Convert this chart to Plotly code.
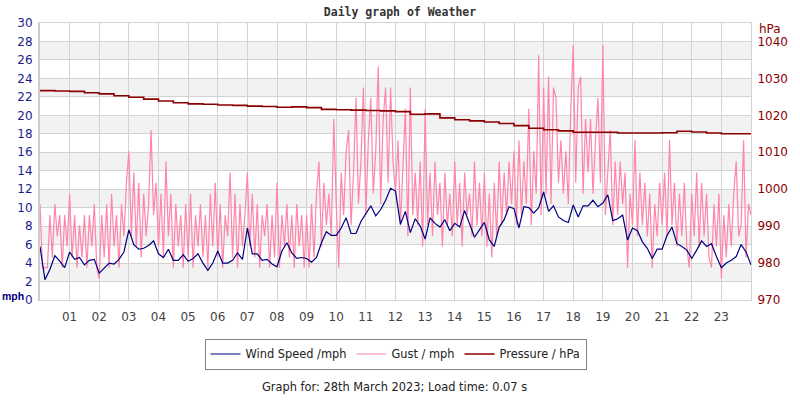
import pandas as pd
import plotly.graph_objects as go

# ---------------- data ----------------
DAY = "2023-03-28"

# wind speed, mph, every 10 minutes from 00:00
wind_mph = [
    5.8, 2.2, 3.3, 4.8, 4.2, 3.5,
    5.2, 4.4, 4.6, 3.8, 4.3, 4.4,
    2.9, 3.4, 4.0, 3.9, 4.4, 5.2,
    7.6, 6.0, 5.5, 5.6, 5.9, 6.4,
    5.0, 4.6, 5.5, 4.3, 4.3, 4.9,
    4.2, 4.5, 5.0, 4.0, 3.2, 4.0,
    5.3, 4.0, 4.0, 4.3, 5.1, 4.4,
    7.8, 5.0, 5.0, 4.3, 4.4, 3.9,
    3.6, 5.3, 6.2, 5.1, 4.5, 4.6,
    4.5, 4.1, 4.6, 6.2, 7.4, 7.0,
    7.0, 7.8, 8.9, 7.2, 7.2, 8.5,
    9.3, 10.2, 9.1, 9.8, 10.8, 12.1,
    11.8, 8.2, 9.6, 7.3, 8.8, 8.0,
    6.6, 8.9, 8.3, 7.9, 8.7, 7.5,
    8.3, 7.9, 9.7, 8.3, 6.8, 7.6,
    8.4, 6.5, 5.8, 7.9, 8.7, 10.1,
    9.9, 7.8, 10.1, 10.0, 9.4, 10.0,
    11.7, 9.6, 10.2, 9.0, 8.6, 8.4,
    10.3, 9.0, 10.2, 10.2, 10.8, 10.1,
    10.5, 11.4, 8.6, 8.8, 9.2, 6.5,
    7.8, 7.5, 6.3, 5.6, 4.5, 5.5,
    5.5, 7.0, 7.9, 6.1, 5.8, 5.4,
    4.5, 5.4, 6.4, 5.8, 6.1, 4.7,
    3.5, 4.0, 4.3, 4.7, 6.0, 5.2,
    3.8,
]

# gust, mph, every 5 minutes from 00:00
gust_mph = [
    10.4, 3.5, 3.5, 3.5, 9.2, 4.6, 10.4, 6.9, 9.2, 3.5, 9.2, 5.8,
    11.5, 4.6, 9.2, 3.5, 8.1, 4.6, 9.2, 3.5, 9.2, 5.8, 10.4, 3.5,
    2.3, 9.2, 4.6, 10.4, 3.5, 11.5, 5.8, 9.2, 3.5, 10.4, 6.9, 12.7,
    16.1, 6.9, 13.8, 5.8, 12.7, 4.6, 11.5, 6.9, 10.4, 18.4, 9.2, 12.7,
    5.8, 11.5, 4.6, 15.0, 6.9, 11.5, 3.5, 10.4, 5.8, 9.2, 3.5, 10.4,
    4.6, 11.5, 3.5, 9.2, 5.8, 10.4, 4.6, 9.2, 3.5, 11.5, 5.8, 12.7,
    4.6, 10.4, 3.5, 9.2, 6.9, 13.8, 4.6, 11.5, 3.5, 10.4, 5.8, 9.2,
    13.8, 5.8, 11.5, 4.6, 10.4, 3.5, 9.2, 6.9, 10.4, 3.5, 9.2, 4.6,
    12.7, 3.5, 9.2, 5.8, 10.4, 4.6, 9.2, 3.5, 10.4, 5.8, 9.2, 3.5,
    9.2, 3.5, 10.4, 4.6, 11.5, 15.0, 5.8, 12.7, 8.1, 11.5, 6.9, 19.6,
    10.4, 3.5, 13.8, 9.2, 16.1, 18.4, 8.1, 13.8, 21.9, 10.4, 15.0, 23.0,
    9.2, 17.3, 21.9, 11.5, 16.1, 25.3, 10.4, 19.6, 23.0, 12.7, 23.0, 15.0,
    11.5, 17.3, 8.1, 15.0, 20.7, 6.9, 23.0, 9.2, 13.8, 8.1, 15.0, 5.8,
    20.7, 8.1, 13.8, 6.9, 15.0, 9.2, 12.7, 5.8, 13.8, 8.1, 11.5, 6.9,
    15.0, 8.1, 12.7, 5.8, 13.8, 9.2, 11.5, 6.9, 15.0, 8.1, 12.7, 6.9,
    13.8, 5.8, 11.5, 4.6, 12.7, 6.9, 15.0, 8.1, 13.8, 9.2, 15.0, 10.4,
    16.1, 8.1, 17.3, 9.2, 15.0, 10.4, 20.7, 8.1, 16.1, 11.5, 26.5, 9.2,
    23.0, 11.5, 24.2, 10.4, 23.0, 21.9, 12.7, 17.3, 11.5, 16.1, 10.4, 20.7,
    27.6, 12.7, 23.0, 24.2, 11.5, 19.6, 13.8, 19.6, 11.5, 17.3, 21.9, 12.7,
    27.6, 9.2, 13.8, 18.4, 8.1, 15.0, 9.2, 15.0, 10.4, 13.8, 3.5, 11.5,
    8.1, 17.3, 6.9, 13.8, 8.1, 12.7, 6.9, 11.5, 3.5, 10.4, 6.9, 12.7,
    8.1, 13.8, 6.9, 17.3, 8.1, 12.7, 5.8, 11.5, 6.9, 12.7, 5.8, 3.5,
    11.5, 6.9, 13.8, 5.8, 12.7, 6.9, 11.5, 4.6, 3.5, 10.4, 5.8, 11.5,
    2.3, 9.2, 4.6, 10.4, 5.8, 11.5, 15.0, 6.9, 8.1, 17.3, 4.6, 10.4,
    9.2,
]

# pressure, hPa, every 30 minutes from 00:00
pressure_hpa = [
    1026.7, 1026.6, 1026.5, 1026.1, 1025.8, 1025.3, 1024.9, 1024.4,
    1023.9, 1023.4, 1023.1, 1023.0, 1022.8, 1022.7, 1022.5, 1022.4,
    1022.2, 1022.3, 1022.1, 1021.6, 1021.5, 1021.4, 1021.3, 1021.2,
    1021.0, 1020.3, 1020.4, 1019.3, 1018.8, 1018.5, 1018.2, 1017.8,
    1017.2, 1016.5, 1016.1, 1015.8, 1015.4, 1015.4, 1015.4, 1015.2,
    1015.2, 1015.2, 1015.3, 1015.7, 1015.5, 1015.2, 1015.0, 1015.0,
    1015.1,
]

hour_labels = ["%02d" % h for h in range(1, 24)]
mph_ticks = list(range(0, 31, 2))
hpa_ticks = list(range(970, 1041, 10))

# ---------------- styles ----------------
WIND_COL = "#000080"
GUST_COL = "#ff85aa"
PRES_COL = "#8b0000"
LEFT_COL = "#1c1c8c"
GRID = "#d3d3d3"
BAND = "#f2f2f2"
FONT = "DejaVu Sans"

t_wind = pd.date_range(DAY, periods=len(wind_mph), freq="10min")
t_gust = pd.date_range(DAY, periods=len(gust_mph), freq="5min")
t_pres = pd.date_range(DAY, periods=len(pressure_hpa), freq="30min")
hour_vals = pd.date_range(DAY, periods=24, freq="1h")[1:]

fig = go.Figure()
fig.add_trace(go.Scatter(
    x=t_gust, y=gust_mph, name="Gust / mph", mode="lines",
    line=dict(color=GUST_COL, width=1.2), legendrank=2))
fig.add_trace(go.Scatter(
    x=t_wind, y=wind_mph, name="Wind Speed /mph", mode="lines",
    line=dict(color=WIND_COL, width=1.2), legendrank=1))
fig.add_trace(go.Scatter(
    x=t_pres, y=pressure_hpa, name="Pressure / hPa", mode="lines",
    line=dict(color=PRES_COL, width=1.6, shape="hv"), yaxis="y2",
    legendrank=3))

# alternating background bands
shapes = []
for lo in range(2, 30, 4):
    shapes.append(dict(type="rect", xref="paper", yref="y", x0=0, x1=1,
                       y0=lo, y1=lo + 2, fillcolor=BAND, line_width=0,
                       layer="below"))

fig.update_layout(
    width=800, height=400,
    margin=dict(l=40, r=38, t=23, b=100),
    paper_bgcolor="white", plot_bgcolor="white",
    font=dict(family=FONT, size=12, color="#333"),
    shapes=shapes,
    title=dict(text="<b>Daily graph of Weather</b>", x=0.5, xanchor="center",
               y=0.97, yanchor="middle",
               font=dict(family="DejaVu Sans Mono", size=11.5, color="#333")),
    xaxis=dict(
        range=[pd.Timestamp(DAY), pd.Timestamp(DAY) + pd.Timedelta("1D")],
        tickvals=hour_vals, ticktext=hour_labels,
        showgrid=True, gridcolor=GRID, gridwidth=1,
        ticks="outside", ticklen=6, tickcolor="rgba(0,0,0,0)",
        tickfont=dict(color="#444", size=12, family=FONT),
        showline=True, linecolor=GRID, linewidth=1, mirror=True,
        zeroline=False,
    ),
    yaxis=dict(
        range=[0, 30], tickvals=mph_ticks,
        showgrid=True, gridcolor=GRID, gridwidth=1,
        ticks="outside", ticklen=3, tickcolor="rgba(0,0,0,0)",
        tickfont=dict(color=LEFT_COL, size=12, family=FONT),
        showline=True, linecolor="#cccccc", linewidth=2,
        zeroline=False,
    ),
    yaxis2=dict(
        range=[970, 1045], tickvals=hpa_ticks, overlaying="y", side="right",
        showgrid=False, zeroline=False,
        ticks="outside", ticklen=3, tickcolor="rgba(0,0,0,0)",
        tickfont=dict(color=PRES_COL, size=12, family=FONT),
        showline=True, linecolor=GRID, linewidth=1,
    ),
    legend=dict(
        orientation="h", x=0.5, xanchor="center", y=-0.195, yanchor="middle",
        bordercolor="#808080", borderwidth=1, bgcolor="white",
        font=dict(family=FONT, size=11.4, color="#222"),
        itemwidth=30, tracegroupgap=0,
    ),
    annotations=[
        dict(text="<b>mph</b>", xref="paper", yref="paper",
             x=(13 - 40) / 722, y=(300 - 296) / 277, showarrow=False,
             xanchor="center", yanchor="middle", borderpad=0,
             font=dict(color=WIND_COL, size=10.5, family="Liberation Sans")),
        dict(text="hPa", xref="paper", yref="paper",
             x=(781 - 40) / 722, y=(300 - 29) / 277, showarrow=False,
             xanchor="center", yanchor="middle",
             font=dict(color=PRES_COL, size=12, family=FONT)),
        dict(text="Graph for: 28th March 2023; Load time: 0.07 s",
             xref="paper", yref="paper", x=(400 - 40) / 722,
             y=(300 - 387) / 277, showarrow=False,
             xanchor="center", yanchor="middle",
             font=dict(color="#222", size=11.4, family=FONT)),
    ],
)

fig.write_html("out.html")
